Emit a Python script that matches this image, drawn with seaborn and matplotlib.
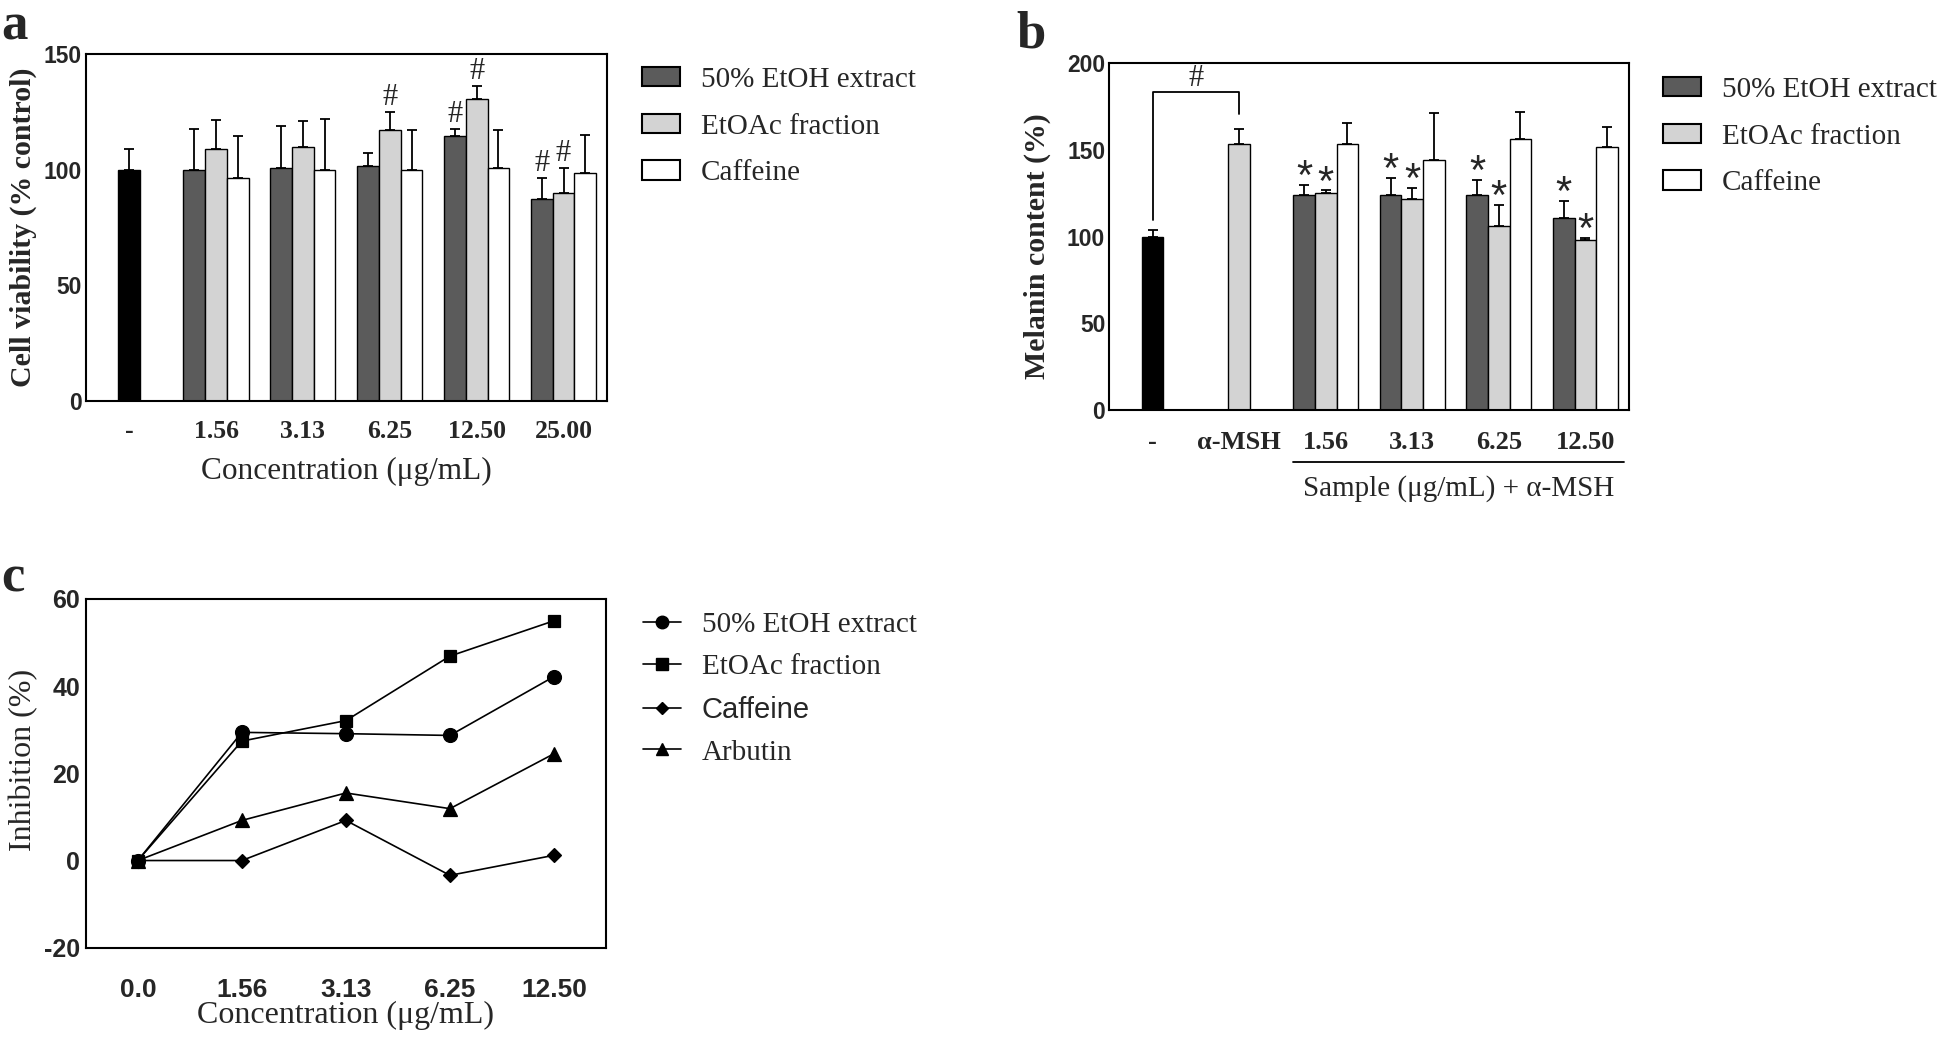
import numpy as np
import pandas as pd
import matplotlib
matplotlib.use("Agg")
import matplotlib.pyplot as plt
from matplotlib.patches import Patch
from matplotlib.lines import Line2D
import seaborn as sns

SERIES = ["50% EtOH extract", "EtOAc fraction", "Caffeine"]
BAR_COLORS = ["#5b5b5b", "#d3d3d3", "#ffffff"]

# (a) cell viability
conc_a = ["-", "1.56", "3.13", "6.25", "12.50", "25.00"]
control_a, control_a_err = 100.0, 8.9
etoh_a = [100.0, 100.6, 101.7, 114.6, 87.2]
etoac_a = [108.9, 109.8, 117.3, 130.6, 89.7]
caff_a = [96.3, 100.0, 100.0, 100.6, 98.6]
etoh_a_err = [17.4, 18.3, 5.6, 3.0, 9.3]
etoac_a_err = [12.4, 11.1, 7.8, 5.7, 11.2]
caff_a_err = [18.1, 21.8, 17.2, 16.7, 16.4]
hash_a = [("6.25", 1), ("12.50", 0), ("12.50", 1), ("25.00", 0), ("25.00", 1)]

# (b) melanin content
conc_b = ["-", "α-MSH", "1.56", "3.13", "6.25", "12.50"]
control_b, control_b_err = 100.0, 3.8
msh_b, msh_b_err = 153.3, 9.0
etoh_b = [123.8, 123.8, 124.0, 111.0]
etoac_b = [125.2, 121.5, 106.2, 97.9]
caff_b = [153.3, 144.0, 156.5, 151.9]
etoh_b_err = [6.2, 10.2, 8.7, 9.8]
etoac_b_err = [1.5, 6.4, 12.1, 1.3]
caff_b_err = [12.5, 27.2, 15.2, 11.6]
star_b = [(c, s) for c in ["1.56", "3.13", "6.25", "12.50"] for s in (0, 1)]

# (c) inhibition
conc_c = ["0.0", "1.56", "3.13", "6.25", "12.50"]
LINE_SERIES = ["50% EtOH extract", "EtOAc fraction", "Caffeine", "Arbutin"]
LINE_MARKERS = ["o", "s", "D", "^"]
LINE_SIZES = [10, 9, 7, 10]
etoh_c = [0.0, 29.4, 29.1, 28.7, 42.2]
etoac_c = [0.0, 27.4, 32.1, 46.9, 55.0]
caff_c = [0.0, 0.0, 9.2, -3.4, 1.2]
arb_c = [0.0, 9.2, 15.5, 11.9, 24.5]

W, H = 1946, 1038
SERIF = "Liberation Serif"
SANS = "Liberation Sans"


def long_frame(cats, values):
    rows = []
    for name, vals in values.items():
        for c, v in zip(cats, vals):
            rows.append({"conc": c, "series": name, "value": v})
    return pd.DataFrame(rows)


def px_axes(fig, left, top, right, bottom):
    return fig.add_axes([left / W, 1 - bottom / H, (right - left) / W, (bottom - top) / H])


def style_box(ax):
    for sp in ax.spines.values():
        sp.set_visible(True)
        sp.set_color("black")
        sp.set_linewidth(1.5)


def bar_panel(ax, cats, df, control, control_err, errs):
    sns.barplot(data=df, x="conc", y="value", hue="series", order=cats,
                hue_order=SERIES, palette=BAR_COLORS, width=0.75, saturation=1,
                edgecolor="black", linewidth=1.0, errorbar=None, legend=False, ax=ax)
    sns.barplot(x=["-"], y=[control], order=cats, color="black", width=0.25,
                saturation=1, edgecolor="black", linewidth=1.0, errorbar=None, ax=ax)
    xs, ys, es = [cats.index("-")], [control], [control_err]
    for _, r in df.iterrows():
        xs.append(cats.index(r["conc"]) + (SERIES.index(r["series"]) - 1) * 0.25)
        ys.append(r["value"])
        es.append(errs[(r["conc"], r["series"])])
    ax.errorbar(xs, ys, yerr=[np.zeros(len(es)), es], fmt="none", ecolor="black",
                elinewidth=1.3, capsize=3.5, capthick=1.3, zorder=3)
    ax.set_xlim(-0.5, len(cats) - 0.5)
    ax.set_xlabel("")
    ax.set_ylabel("")
    return {(c, s): (x, y + e) for (c, s), x, y, e in
            zip([("-", "-")] + list(zip(df["conc"], df["series"])), xs, ys, es)}


sns.set_style("white")
plt.rcParams["font.family"] = [SERIF, "DejaVu Sans"]

fig = plt.figure(figsize=(W / 100, H / 100), dpi=100)

# ---------------- panel a ----------------
ax_a = px_axes(fig, 85.7, 54, 607, 401)
df_a = long_frame(conc_a[1:], dict(zip(SERIES, [etoh_a, etoac_a, caff_a])))
err_a = {}
for s, e in zip(SERIES, [etoh_a_err, etoac_a_err, caff_a_err]):
    for c, v in zip(conc_a[1:], e):
        err_a[(c, s)] = v
tops_a = bar_panel(ax_a, conc_a, df_a, control_a, control_a_err, err_a)
ax_a.set_ylim(0, 150)
ax_a.set_yticks([0, 50, 100, 150], labels=["0", "50", "100", "150"],
                fontfamily=SANS, fontweight="bold", fontsize=16.5)
ax_a.set_xticks(range(len(conc_a)), labels=conc_a, fontfamily=SERIF,
                fontweight="bold", fontsize=18.5)
ax_a.tick_params(axis="x", length=0, pad=14)
ax_a.tick_params(axis="y", direction="in", length=5, width=1.3, pad=3)
for c, s in hash_a:
    x, y = tops_a[(c, SERIES[s])]
    ax_a.annotate("#", (x, y), xytext=(0, 5), textcoords="offset points",
                  ha="center", va="baseline", fontsize=22, fontfamily=SERIF)
ax_a.set_xlabel("Concentration (μg/mL)", fontsize=22.5, fontfamily=SERIF)
ax_a.xaxis.set_label_coords(0.5, -(457 - 401) / 347)
ax_a.set_ylabel("Cell viability (% control)", fontsize=21.5, fontweight="bold")
ax_a.yaxis.set_label_coords((37 - 85.7) / 521.3, 0.5)
style_box(ax_a)

# ---------------- panel b ----------------
ax_b = px_axes(fig, 1109.4, 63.3, 1628.6, 410)
df_b = long_frame(conc_b[2:], dict(zip(SERIES, [etoh_b, etoac_b, caff_b])))
df_b = pd.concat([pd.DataFrame([{"conc": "α-MSH", "series": SERIES[1], "value": msh_b}]), df_b],
                 ignore_index=True)
err_b = {("α-MSH", SERIES[1]): msh_b_err}
for s, e in zip(SERIES, [etoh_b_err, etoac_b_err, caff_b_err]):
    for c, v in zip(conc_b[2:], e):
        err_b[(c, s)] = v
tops_b = bar_panel(ax_b, conc_b, df_b, control_b, control_b_err, err_b)
ax_b.set_ylim(0, 200)
ax_b.set_yticks([0, 50, 100, 150, 200], labels=["0", "50", "100", "150", "200"],
                fontfamily=SANS, fontweight="bold", fontsize=16.5)
ax_b.set_xticks(range(len(conc_b)), labels=conc_b, fontfamily=SERIF,
                fontweight="bold", fontsize=19)
ax_b.tick_params(axis="x", length=0, pad=15)
ax_b.tick_params(axis="y", direction="in", length=5, width=1.3, pad=3)
for c, s in star_b:
    x, y = tops_b[(c, SERIES[s])]
    ax_b.annotate("*", (x, y), xytext=(0, -3), textcoords="offset points",
                  ha="center", va="baseline", fontsize=30, fontfamily=SANS)
# bracket between control and alpha-MSH
ax_b.plot([0, 0, 1, 1], [109.6, 183.5, 183.5, 170.6], color="black", lw=1.3)
ax_b.text(0.5, 191.5, "#", ha="center", va="center", fontsize=22)
trans = ax_b.get_xaxis_transform()
ax_b.plot([1.625, 5.45], [-(461.7 - 410) / 346.7] * 2, color="black", lw=1.3,
          transform=trans, clip_on=False)
ax_b.text(3.54, -(489 - 410) / 346.7, "Sample (μg/mL) + α-MSH", transform=trans,
          ha="center", va="center", fontsize=21)
ax_b.set_ylabel("Melanin content (%)", fontsize=21.5, fontweight="bold")
ax_b.yaxis.set_label_coords((1051 - 1109.4) / 519.2, 0.473)
style_box(ax_b)

# ---------------- panel c ----------------
ax_c = px_axes(fig, 85.8, 599, 606, 947.7)
df_c = long_frame(conc_c, dict(zip(LINE_SERIES, [etoh_c, etoac_c, caff_c, arb_c])))
for i in [0, 2, 3, 1]:
    sub = df_c[df_c["series"] == LINE_SERIES[i]]
    sns.pointplot(data=sub, x="conc", y="value", order=conc_c, color="black",
                  marker=LINE_MARKERS[i], markersize=LINE_SIZES[i], linewidth=1.2,
                  errorbar=None, ax=ax_c)
ax_c.set_xlim(-0.5, 4.5)
ax_c.set_ylim(-20, 60)
ax_c.set_yticks([-20, 0, 20, 40, 60], labels=["-20", "0", "20", "40", "60"],
                fontfamily=SANS, fontweight="bold", fontsize=18)
ax_c.set_xticks(range(len(conc_c)), labels=conc_c, fontfamily=SANS,
                fontweight="bold", fontsize=19)
ax_c.tick_params(axis="x", direction="in", length=7, width=1.3, pad=22)
ax_c.tick_params(axis="y", direction="in", length=7, width=1.3, pad=4)
ax_c.set_xlabel("Concentration (μg/mL)", fontsize=23)
ax_c.xaxis.set_label_coords(0.5, -(1001 - 947.7) / 348.7)
ax_c.set_ylabel("Inhibition (%)", fontsize=23)
ax_c.yaxis.set_label_coords((38 - 85.8) / 520.2, 0.538)
style_box(ax_c)

# ---------------- legends ----------------
bar_handles = [Patch(facecolor=c, edgecolor="black", linewidth=1.5) for c in BAR_COLORS]
for x0, y0 in [(642, 67), (1662.7, 77)]:
    fig.legend(bar_handles, SERIES, loc="upper left", bbox_to_anchor=(x0 / W, 1 - y0 / H),
               frameon=False, fontsize=21, handlelength=1.3, handleheight=0.65,
               handletextpad=0.72, labelspacing=0.71, borderpad=0, borderaxespad=0)

line_handles = [Line2D([], [], color="black", lw=1.2, marker=m, markersize=s * 0.9)
                for m, s in zip(LINE_MARKERS, LINE_SIZES)]
leg_c = fig.legend(line_handles, LINE_SERIES, loc="upper left",
                   bbox_to_anchor=(643 / W, 1 - 612 / H), frameon=False, fontsize=21,
                   handlelength=1.3, handletextpad=0.72, labelspacing=0.53,
                   borderpad=0, borderaxespad=0)
leg_c.get_texts()[2].set_fontfamily(SANS)

# ---------------- panel letters ----------------
for letter, x, y in [("a", 1, 40), ("b", 1016, 47), ("c", 1, 592)]:
    fig.text(x / W, 1 - y / H, letter, fontsize=38, fontweight="bold",
             ha="left", va="baseline")

fig.savefig("out.png", dpi=100)
